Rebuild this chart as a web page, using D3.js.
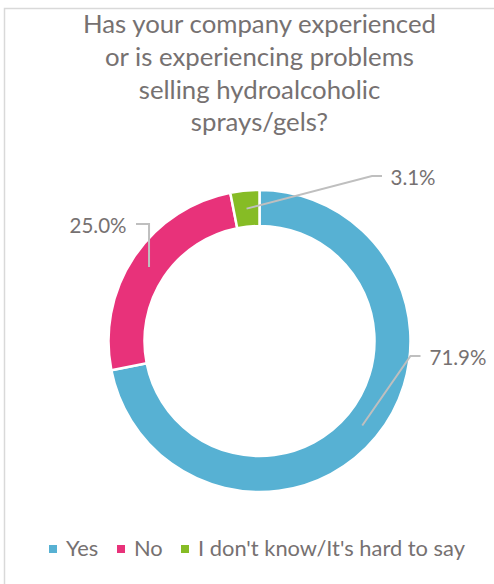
<!DOCTYPE html>
<html>
<head>
<meta charset="utf-8">
<script src="https://cdn.jsdelivr.net/npm/d3@7"></script>
<style>
  html, body { margin: 0; padding: 0; background: #fff; }
  svg { display: block; }
  text { font-family: Lato, "Open Sans", sans-serif; font-weight: 400; fill: #767171; }
</style>
</head>
<body>
<svg id="chart" width="494" height="584"></svg>
<script>
// Survey answers and their shares (%)
const categories = ["Yes", "No", "I don't know/It's hard to say"];
const values = [71.9, 25.0, 3.1];
const colors = ["#57B1D3", "#E8327A", "#86BC25"];
const titleLines = [
  "Has your company experienced",
  "or is experiencing problems",
  "selling hydroalcoholic",
  "sprays/gels?"
];

const svg = d3.select("#chart");

// Fit a text element to a target width by scaling its font size
function fitWidth(sel, target, base) {
  sel.attr("font-size", base);
  const w = sel.node().getComputedTextLength();
  const size = base * target / w;
  sel.attr("font-size", size);
  return size;
}

// Outer frame
svg.append("rect")
  .attr("x", 4.5).attr("y", 8.5)
  .attr("width", 600).attr("height", 600)
  .attr("fill", "none")
  .attr("stroke", "#D9D9D9")
  .attr("stroke-width", 1.5);

// Title
const cx = 259.5, cy = 341;
const titleBase = [33, 66, 98.5, 131];
const t0 = svg.append("text").text(titleLines[0]);
const titleSize = fitWidth(t0, 353, 20);
t0.remove();
svg.append("g").selectAll("text")
  .data(titleLines)
  .join("text")
  .attr("x", cx)
  .attr("y", (d, i) => titleBase[i])
  .attr("text-anchor", "middle")
  .attr("font-size", titleSize)
  .text(d => d);

// Donut
const data = categories.map((c, i) => ({ cat: c, value: values[i], color: colors[i] }));
const pie = d3.pie().value(d => d.value).sort(null);
const arcs = pie(data);
const outerR = 151, innerR = 115;
const arc = d3.arc().innerRadius(innerR).outerRadius(outerR);
const midArc = d3.arc().innerRadius(133).outerRadius(133);

const g = svg.append("g").attr("transform", `translate(${cx},${cy})`);
g.selectAll("path.slice")
  .data(arcs)
  .join("path")
  .attr("class", "slice")
  .attr("d", arc)
  .attr("fill", d => d.data.color)
  .attr("stroke", "#fff")
  .attr("stroke-width", 2.5)
  .attr("stroke-linejoin", "round");

// Data labels with leader lines (elbow point, label anchor relative to centre)
const labelLayout = [
  { elbow: [151, 15], end: [161, 15], text: [170, 24], anchor: "start" },   // Yes
  { elbow: [-111.5, -117], end: [-123.5, -117], text: [-133, -108], anchor: "end" }, // No
  { elbow: [112.5, -165], end: [122.5, -165], text: [131, -156], anchor: "start" }   // Don't know
];

const labelG = g.append("g");
arcs.forEach((a, i) => {
  const L = labelLayout[i];
  const p0 = midArc.centroid(a);
  let pts;
  if (i === 1) {
    // vertical drop from the elbow straight down to the ring
    pts = [[L.end[0], L.end[1]], [p0[0], L.elbow[1]], p0];
  } else {
    pts = [p0, L.elbow, L.end];
  }
  labelG.append("path")
    .attr("d", d3.line()(pts))
    .attr("fill", "none")
    .attr("stroke", "#BFBFBF")
    .attr("stroke-width", 2);
});

const lbl = labelG.selectAll("text.lbl")
  .data(arcs)
  .join("text")
  .attr("class", "lbl")
  .attr("x", (d, i) => labelLayout[i].text[0])
  .attr("y", (d, i) => labelLayout[i].text[1])
  .attr("text-anchor", (d, i) => labelLayout[i].anchor)
  .text(d => d3.format(".1f")(d.data.value) + "%");
const lblSize = fitWidth(d3.select(lbl.nodes()[0]), 57, 20);
lbl.attr("font-size", lblSize);

// Legend
const legendX = [49, 117, 181];
const legendY = 556;
const lg = svg.append("g");
const lt = lg.selectAll("text")
  .data(data)
  .join("text")
  .attr("x", (d, i) => legendX[i] + 17)
  .attr("y", legendY)
  .text(d => d.cat);
const legSize = fitWidth(d3.select(lt.nodes()[2]), 267, 20);
lt.attr("font-size", legSize);
lg.selectAll("rect")
  .data(data)
  .join("rect")
  .attr("x", (d, i) => legendX[i])
  .attr("y", legendY - 11)
  .attr("width", 8)
  .attr("height", 8)
  .attr("fill", d => d.color);
</script>
</body>
</html>
